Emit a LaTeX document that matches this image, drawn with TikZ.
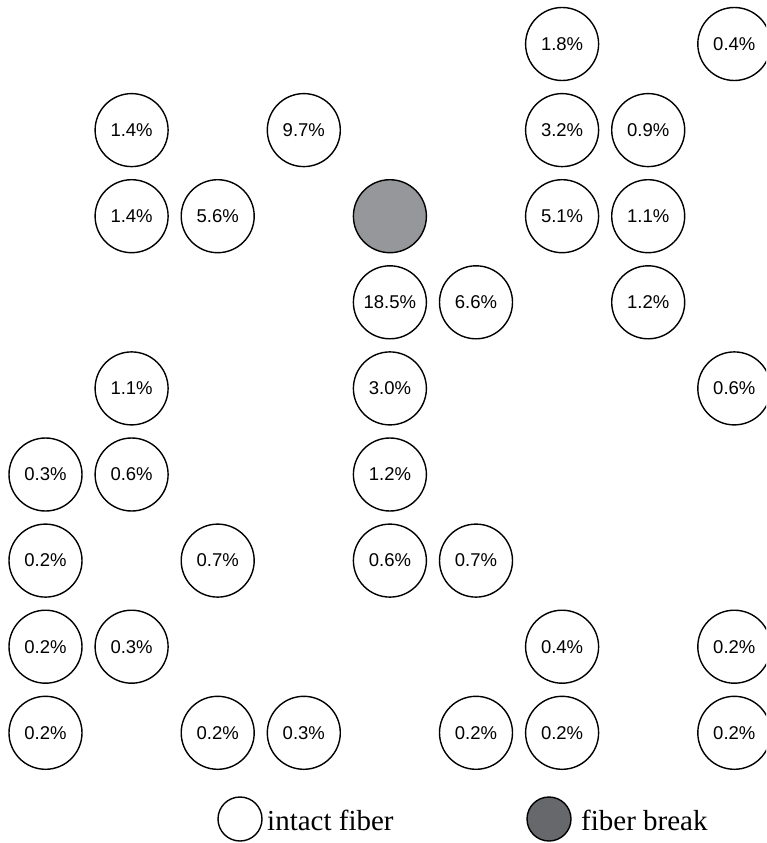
\documentclass[tikz,border=0pt]{standalone}
\usepackage{fontspec}
\setmainfont{Liberation Serif}
\setsansfont{Liberation Sans}
\definecolor{breakgray}{HTML}{96979A}
\definecolor{legendgray}{HTML}{67686B}
\begin{document}
\begin{tikzpicture}[x=1pt,y=-1pt,
  fib/.style={circle,draw=black,line width=1.4pt,minimum size=73pt,inner sep=0pt,fill=white,
    font=\sffamily\fontsize{18.5}{20}\selectfont},
  brk/.style={fib,fill=breakgray},
  legc/.style={circle,draw=black,line width=1.4pt,minimum size=44pt,inner sep=0pt},
  legt/.style={anchor=base west,inner sep=0pt,font=\rmfamily\fontsize{29}{32}\selectfont}]
\useasboundingbox (0,0) rectangle (766,843);
\clip (0,0) rectangle (766,843);
\def\cx#1{45.5+86.1*(#1-1)}
\def\ry#1{44+86.1*(#1-1)}
% row 1
\node[fib] (r1c7) at ({\cx{7}},{\ry{1}}) {1.8\%};
\node[fib] (r1c9) at ({\cx{9}},{\ry{1}}) {0.4\%};
% row 2
\node[fib] (r2c2) at ({\cx{2}},{\ry{2}}) {1.4\%};
\node[fib] (r2c4) at ({\cx{4}},{\ry{2}}) {9.7\%};
\node[fib] (r2c7) at ({\cx{7}},{\ry{2}}) {3.2\%};
\node[fib] (r2c8) at ({\cx{8}},{\ry{2}}) {0.9\%};
% row 3
\node[fib] (r3c2) at ({\cx{2}},{\ry{3}}) {1.4\%};
\node[fib] (r3c3) at ({\cx{3}},{\ry{3}}) {5.6\%};
\node[brk] (r3c5) at ({\cx{5}},{\ry{3}}) {};
\node[fib] (r3c7) at ({\cx{7}},{\ry{3}}) {5.1\%};
\node[fib] (r3c8) at ({\cx{8}},{\ry{3}}) {1.1\%};
% row 4
\node[fib] (r4c5) at ({\cx{5}},{\ry{4}}) {18.5\%};
\node[fib] (r4c6) at ({\cx{6}},{\ry{4}}) {6.6\%};
\node[fib] (r4c8) at ({\cx{8}},{\ry{4}}) {1.2\%};
% row 5
\node[fib] (r5c2) at ({\cx{2}},{\ry{5}}) {1.1\%};
\node[fib] (r5c5) at ({\cx{5}},{\ry{5}}) {3.0\%};
\node[fib] (r5c9) at ({\cx{9}},{\ry{5}}) {0.6\%};
% row 6
\node[fib] (r6c1) at ({\cx{1}},{\ry{6}}) {0.3\%};
\node[fib] (r6c2) at ({\cx{2}},{\ry{6}}) {0.6\%};
\node[fib] (r6c5) at ({\cx{5}},{\ry{6}}) {1.2\%};
% row 7
\node[fib] (r7c1) at ({\cx{1}},{\ry{7}}) {0.2\%};
\node[fib] (r7c3) at ({\cx{3}},{\ry{7}}) {0.7\%};
\node[fib] (r7c5) at ({\cx{5}},{\ry{7}}) {0.6\%};
\node[fib] (r7c6) at ({\cx{6}},{\ry{7}}) {0.7\%};
% row 8
\node[fib] (r8c1) at ({\cx{1}},{\ry{8}}) {0.2\%};
\node[fib] (r8c2) at ({\cx{2}},{\ry{8}}) {0.3\%};
\node[fib] (r8c7) at ({\cx{7}},{\ry{8}}) {0.4\%};
\node[fib] (r8c9) at ({\cx{9}},{\ry{8}}) {0.2\%};
% row 9
\node[fib] (r9c1) at ({\cx{1}},{\ry{9}}) {0.2\%};
\node[fib] (r9c3) at ({\cx{3}},{\ry{9}}) {0.2\%};
\node[fib] (r9c4) at ({\cx{4}},{\ry{9}}) {0.3\%};
\node[fib] (r9c6) at ({\cx{6}},{\ry{9}}) {0.2\%};
\node[fib] (r9c7) at ({\cx{7}},{\ry{9}}) {0.2\%};
\node[fib] (r9c9) at ({\cx{9}},{\ry{9}}) {0.2\%};
% legend
\node[legc,fill=white] (legA) at (240,819) {};
\node[legt] (legAt) at (267,830) {intact fiber};
\node[legc,fill=legendgray] (legB) at (549,819) {};
\node[legt] (legBt) at (581,830) {fiber break};
\end{tikzpicture}
\end{document}
